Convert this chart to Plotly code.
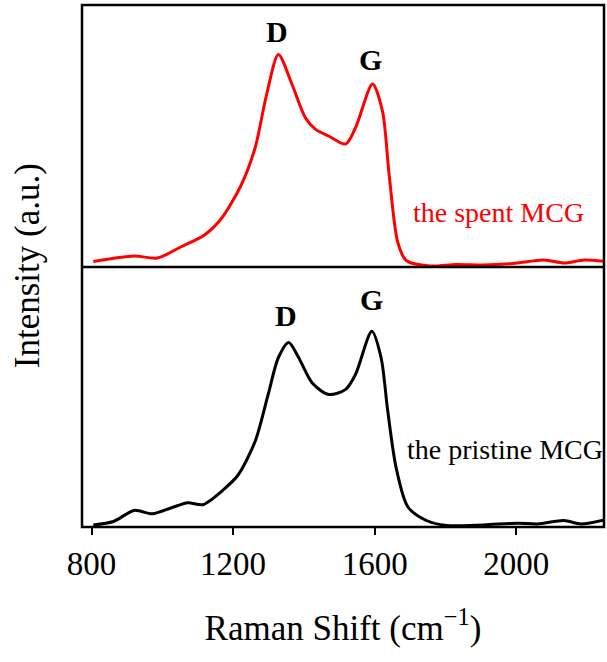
import plotly.graph_objects as go
from plotly.subplots import make_subplots

# Spent MCG (top panel)
spent_x = [805, 920, 986, 1052, 1119, 1167, 1223, 1262, 1295, 1328, 1366, 1404, 1433, 1470,
           1518, 1546, 1594, 1622, 1641, 1665, 1689, 1756, 1830, 1907, 1990, 2079, 2135, 2192, 2254]
spent_y = [5.5, 11, 9, 20, 32, 48.5, 82, 119, 173, 212.5, 183, 149.4, 137.6, 131,
           123, 139.3, 183, 156, 92, 25, 6.5, 1, 2.5, 2, 3.5, 7, 4, 7, 5.5]

# Pristine MCG (bottom panel)
pristine_x = [805, 862, 920, 972, 1024, 1072, 1114, 1176, 1214, 1262, 1299, 1328, 1357, 1385,
              1423, 1470, 1518, 1546, 1592, 1618, 1637, 1661, 1694, 1746, 1803, 1908, 2003,
              2060, 2135, 2183, 2250]
pristine_y = [2.1, 5.5, 16.6, 13.2, 19, 24.3, 22.3, 38.4, 52, 85.5, 132.5, 169.5, 184.6, 169.5,
              144.3, 132.5, 137.6, 152.7, 195.7, 169.5, 115.7, 58.6, 20, 6.5, 1.5, 2.1, 3.8,
              3, 6.5, 3.1, 7.2]

x_ticks = [800, 1200, 1600, 2000]
x_title = "Raman Shift (cm<sup>\u22121</sup>)"
y_title = "Intensity (a.u.)"
spent_label = "the spent MCG"
pristine_label = "the pristine MCG"

FONT = "Liberation Serif, Times New Roman, serif"

fig = make_subplots(rows=2, cols=1, shared_xaxes=True, vertical_spacing=0,
                    row_heights=[262, 260])

fig.add_trace(go.Scatter(x=spent_x, y=spent_y, mode="lines",
                         line=dict(color="#ff0000", width=3, shape="spline", smoothing=0.8),
                         showlegend=False), row=1, col=1)
fig.add_trace(go.Scatter(x=pristine_x, y=pristine_y, mode="lines",
                         line=dict(color="#000000", width=3, shape="spline", smoothing=0.8),
                         showlegend=False), row=2, col=1)

xr = [773, 2248]
axis_common = dict(showline=False, showgrid=False, zeroline=False)
fig.update_xaxes(range=xr, **axis_common)
fig.update_xaxes(row=1, col=1, showticklabels=False, ticks="")
fig.update_xaxes(row=2, col=1, tickvals=x_ticks, ticks="outside", ticklen=7, tickwidth=2,
                 tickcolor="black", tickfont=dict(family=FONT, size=33, color="black"),
                 ticklabelstandoff=0,
                 title=dict(text=x_title, font=dict(family=FONT, size=35, color="black"),
                            standoff=34))
fig.update_yaxes(showticklabels=False, ticks="", **axis_common)
fig.update_yaxes(row=1, col=1, range=[0, 262])
fig.update_yaxes(row=2, col=1, range=[0, 260])

ann = []
def peak(text, x, y, xref, yref):
    return dict(text="<b>%s</b>" % text, x=x, y=y, xref=xref, yref=yref, showarrow=False,
                font=dict(family=FONT, size=30, color="black"), xanchor="center", yanchor="middle")

ann.append(peak("D", 1324, 236, "x", "y"))
ann.append(peak("G", 1587, 208, "x", "y"))
ann.append(peak("D", 1350, 212, "x2", "y2"))
ann.append(peak("G", 1590, 228, "x2", "y2"))
ann.append(dict(text=spent_label, x=1949, y=55, xref="x", yref="y", showarrow=False,
                font=dict(family=FONT, size=28, color="#ff0000"), xanchor="center", yanchor="middle"))
ann.append(dict(text=pristine_label, x=1967, y=78, xref="x2", yref="y2", showarrow=False,
                font=dict(family=FONT, size=28, color="black"), xanchor="center", yanchor="middle"))
ann.append(dict(text=y_title, x=-0.105, y=0.5, xref="paper", yref="paper", showarrow=False,
                textangle=-90, font=dict(family=FONT, size=35, color="black"),
                xanchor="center", yanchor="middle"))

split = 260 / 522
shapes = [
    dict(type="rect", xref="paper", yref="paper", x0=0, x1=1, y0=0, y1=1,
         line=dict(color="black", width=2.5), fillcolor="rgba(0,0,0,0)", layer="above"),
    dict(type="line", xref="paper", yref="paper", x0=0, x1=1, y0=split, y1=split,
         line=dict(color="black", width=2.5), layer="above"),
]

fig.update_layout(width=607, height=662, margin=dict(l=82, r=3, t=5, b=135),
                  paper_bgcolor="white", plot_bgcolor="white", annotations=ann, shapes=shapes)

fig.write_html("out.html")
